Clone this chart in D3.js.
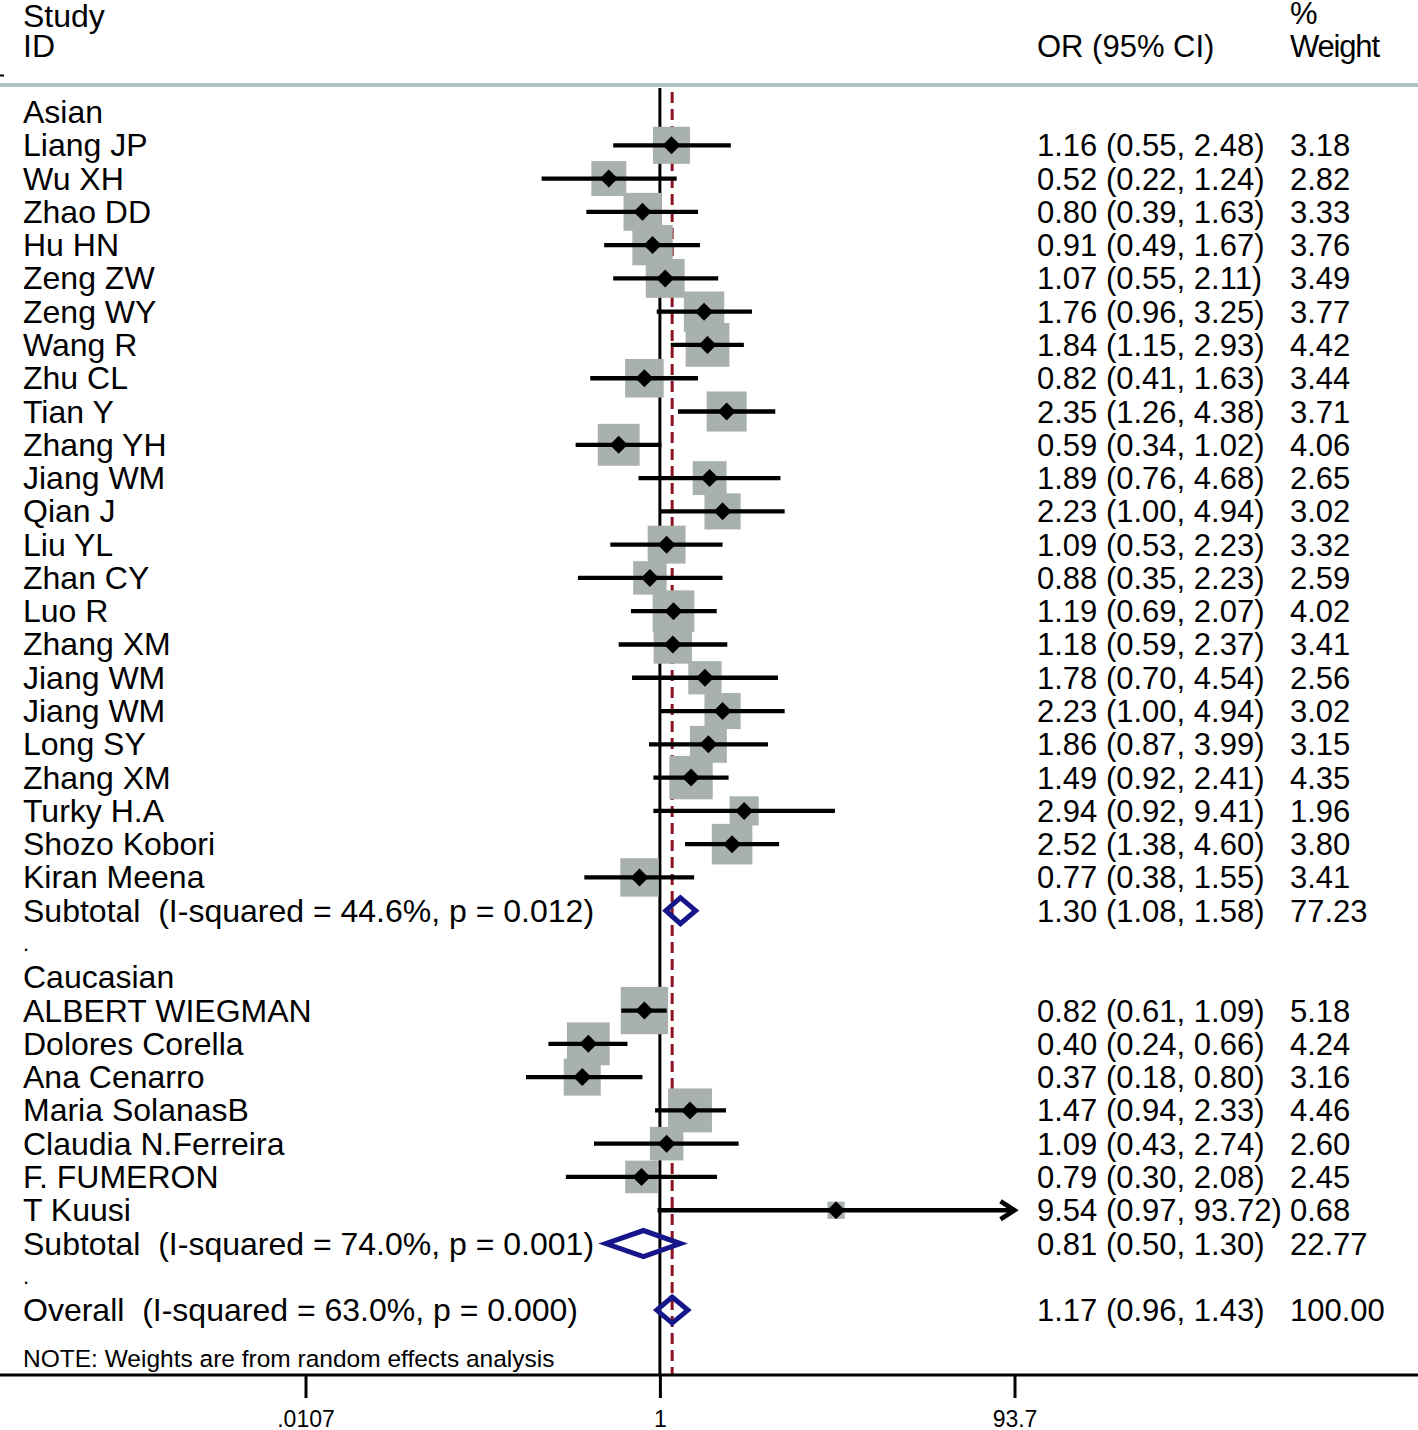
<!DOCTYPE html>
<html>
<head>
<meta charset="utf-8">
<script src="https://cdn.jsdelivr.net/npm/d3@7"></script>
<style>
  html, body { margin: 0; padding: 0; background: #fff; }
  svg { display: block; }
  text { font-family: "Liberation Sans", Arial, Helvetica, sans-serif; fill: #000; white-space: pre; }
</style>
</head>
<body>
<svg id="chart" width="1418" height="1430"></svg>
<script>
// ---------------- DATA ----------------
const groupNames = ["Asian", "Caucasian"];

const asianStudies = ["Liang JP","Wu XH","Zhao DD","Hu HN","Zeng ZW","Zeng WY","Wang R","Zhu CL","Tian Y","Zhang YH","Jiang WM","Qian J","Liu YL","Zhan CY","Luo R","Zhang XM","Jiang WM","Jiang WM","Long SY","Zhang XM","Turky H.A","Shozo Kobori","Kiran Meena"];
const asianOR     = [1.16,0.52,0.80,0.91,1.07,1.76,1.84,0.82,2.35,0.59,1.89,2.23,1.09,0.88,1.19,1.18,1.78,2.23,1.86,1.49,2.94,2.52,0.77];
const asianLow    = [0.55,0.22,0.39,0.49,0.55,0.96,1.15,0.41,1.26,0.34,0.76,1.00,0.53,0.35,0.69,0.59,0.70,1.00,0.87,0.92,0.92,1.38,0.38];
const asianHigh   = [2.48,1.24,1.63,1.67,2.11,3.25,2.93,1.63,4.38,1.02,4.68,4.94,2.23,2.23,2.07,2.37,4.54,4.94,3.99,2.41,9.41,4.60,1.55];
const asianWeight = [3.18,2.82,3.33,3.76,3.49,3.77,4.42,3.44,3.71,4.06,2.65,3.02,3.32,2.59,4.02,3.41,2.56,3.02,3.15,4.35,1.96,3.80,3.41];

const caucStudies = ["ALBERT WIEGMAN","Dolores Corella","Ana Cenarro","Maria SolanasB","Claudia N.Ferreira","F. FUMERON","T Kuusi"];
const caucOR      = [0.82,0.40,0.37,1.47,1.09,0.79,9.54];
const caucLow     = [0.61,0.24,0.18,0.94,0.43,0.30,0.97];
const caucHigh    = [1.09,0.66,0.80,2.33,2.74,2.08,93.72];
const caucWeight  = [5.18,4.24,3.16,4.46,2.60,2.45,0.68];

const pooledLabels = ["Subtotal  (I-squared = 44.6%, p = 0.012)", "Subtotal  (I-squared = 74.0%, p = 0.001)", "Overall  (I-squared = 63.0%, p = 0.000)"];
const pooledOR     = [1.30, 0.81, 1.17];
const pooledLow    = [1.08, 0.50, 0.96];
const pooledHigh   = [1.58, 1.30, 1.43];
const pooledWeight = [77.23, 22.77, 100.00];

const tickValues = [0.0107, 1, 93.7];
const tickLabels = [".0107", "1", "93.7"];

const headerLeft = ["Study", "ID"];
const headerOR = "OR (95% CI)";
const headerWeight = ["%", "Weight"];
const noteText = "NOTE: Weights are from random effects analysis";

// ---------------- BUILD ROWS ----------------
const rows = [];
rows.push({type: "group", label: groupNames[0]});
asianStudies.forEach((s, i) => rows.push({type: "study", label: s, or: asianOR[i], lo: asianLow[i], hi: asianHigh[i], w: asianWeight[i]}));
rows.push({type: "pooled", label: pooledLabels[0], or: pooledOR[0], lo: pooledLow[0], hi: pooledHigh[0], w: pooledWeight[0]});
rows.push({type: "dot", label: "."});
rows.push({type: "group", label: groupNames[1]});
caucStudies.forEach((s, i) => rows.push({type: "study", label: s, or: caucOR[i], lo: caucLow[i], hi: caucHigh[i], w: caucWeight[i]}));
rows.push({type: "pooled", label: pooledLabels[1], or: pooledOR[1], lo: pooledLow[1], hi: pooledHigh[1], w: pooledWeight[1]});
rows.push({type: "dot", label: "."});
rows.push({type: "pooled", label: pooledLabels[2], or: pooledOR[2], lo: pooledLow[2], hi: pooledHigh[2], w: pooledWeight[2]});
rows.forEach((r, i) => r.idx = i);

// ---------------- SCALES ----------------
const W = 1418, H = 1430;
const x = d3.scaleLog().domain([tickValues[0], tickValues[2]]).range([305.5, 1014.5]);
const y = d3.scaleLinear().domain([0, 1]).range([112, 145.28]);
const maxW = d3.max(asianWeight.concat(caucWeight));
const side = d3.scaleSqrt().domain([0, maxW]).range([0, 20.8 * Math.sqrt(maxW)]);

const axisY = 1375;
const fs = 31;
const labelFs = 32;
const labelX = 23, orX = 1037, wX = 1290;

const svg = d3.select("#chart");

// header
svg.append("text").attr("x", labelX).attr("y", 27).attr("font-size", labelFs).text(headerLeft[0]);
svg.append("text").attr("x", labelX).attr("y", 57).attr("font-size", labelFs).text(headerLeft[1]);
svg.append("text").attr("x", orX).attr("y", 57).attr("font-size", fs).text(headerOR);
svg.append("text").attr("x", wX).attr("y", 24).attr("font-size", fs).text(headerWeight[0]);
svg.append("text").attr("x", wX).attr("y", 57).attr("font-size", fs).attr("textLength", 90).text(headerWeight[1]);
svg.append("line").attr("x1", 0).attr("x2", 4).attr("y1", 75.5).attr("y2", 75.5).attr("stroke", "#000").attr("stroke-width", 2);
svg.append("line").attr("x1", 0).attr("x2", W).attr("y1", 85).attr("y2", 85).attr("stroke", "#b2c2c2").attr("stroke-width", 4);

// null line
svg.append("line").attr("x1", x(1)).attr("x2", x(1)).attr("y1", 88).attr("y2", axisY).attr("stroke", "#000").attr("stroke-width", 3);
// overall dashed line
svg.append("line").attr("x1", x(pooledOR[2])).attr("x2", x(pooledOR[2])).attr("y1", 92).attr("y2", axisY)
  .attr("stroke", "#8c1420").attr("stroke-width", 3).attr("stroke-dasharray", "11,6");

const studies = rows.filter(r => r.type === "study");
const pooled = rows.filter(r => r.type === "pooled");

// squares
svg.append("g").selectAll("rect").data(studies).join("rect")
  .attr("x", d => x(d.or) - side(d.w) / 2)
  .attr("y", d => y(d.idx) - side(d.w) / 2)
  .attr("width", d => side(d.w)).attr("height", d => side(d.w))
  .attr("fill", "#a9b1af");

// CI lines
const xMax = x.domain()[1];
svg.append("g").selectAll("line").data(studies).join("line")
  .attr("x1", d => x(Math.max(d.lo, x.domain()[0])))
  .attr("x2", d => x(Math.min(d.hi, xMax)))
  .attr("y1", d => y(d.idx)).attr("y2", d => y(d.idx))
  .attr("stroke", "#000").attr("stroke-width", 4.3);

// arrows for CIs beyond the axis
svg.append("g").selectAll("path").data(studies.filter(d => d.hi > xMax)).join("path")
  .attr("d", d => {
    const tx = x(xMax), ty = y(d.idx);
    return `M${tx - 14},${ty - 9} L${tx},${ty} L${tx - 14},${ty + 9}`;
  })
  .attr("fill", "none").attr("stroke", "#000").attr("stroke-width", 4.5).attr("stroke-linejoin", "miter");

// point markers
svg.append("g").selectAll("path").data(studies).join("path")
  .attr("d", d => {
    const cx = x(d.or), cy = y(d.idx), r = 9;
    return `M${cx - r},${cy} L${cx},${cy - r} L${cx + r},${cy} L${cx},${cy + r} Z`;
  })
  .attr("fill", "#000");

// pooled diamonds
svg.append("g").selectAll("path").data(pooled).join("path")
  .attr("d", d => {
    const cy = y(d.idx), h = 13;
    return `M${x(d.lo)},${cy} L${x(d.or)},${cy - h} L${x(d.hi)},${cy} L${x(d.or)},${cy + h} Z`;
  })
  .attr("fill", "none").attr("stroke", "#16168a").attr("stroke-width", 5).attr("stroke-linejoin", "miter");

// row labels
svg.append("g").selectAll("text").data(rows).join("text")
  .attr("x", labelX)
  .attr("y", d => d.type === "dot" ? y(d.idx) + 7 : y(d.idx) + 11)
  .attr("font-size", d => d.type === "dot" ? 22 : labelFs)
  .text(d => d.label);

// OR column
const fmt = v => v.toFixed(2);
const numRows = rows.filter(r => r.type === "study" || r.type === "pooled");
svg.append("g").selectAll("text").data(numRows).join("text")
  .attr("x", orX).attr("y", d => y(d.idx) + 11).attr("font-size", fs)
  .text(d => `${fmt(d.or)} (${fmt(d.lo)}, ${fmt(d.hi)})`);
svg.append("g").selectAll("text").data(numRows).join("text")
  .attr("x", wX).attr("y", d => y(d.idx) + 11).attr("font-size", fs)
  .text(d => fmt(d.w));

// note
svg.append("text").attr("x", labelX).attr("y", 1367).attr("font-size", 24.5).text(noteText);

// axis
const axis = d3.axisBottom(x).tickValues(tickValues).tickFormat((d, i) => tickLabels[i]).tickSize(23).tickPadding(13);
const ag = svg.append("g").attr("transform", `translate(0,${axisY})`).call(axis);
ag.select(".domain").remove();
ag.selectAll(".tick line").attr("stroke", "#000").attr("stroke-width", 3);
ag.selectAll(".tick text").attr("font-size", 23).attr("font-family", "Liberation Sans, Arial, sans-serif").attr("fill", "#000");
svg.append("line").attr("x1", 0).attr("x2", W).attr("y1", axisY).attr("y2", axisY).attr("stroke", "#000").attr("stroke-width", 3);
</script>
</body>
</html>
